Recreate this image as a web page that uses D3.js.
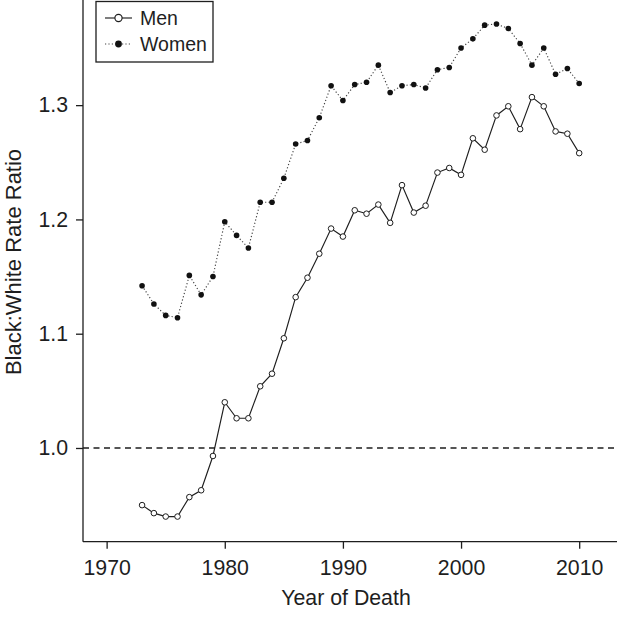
<!DOCTYPE html>
<html>
<head>
<meta charset="utf-8">
<script src="https://cdn.jsdelivr.net/npm/d3@7"></script>
<style>
  html, body { margin: 0; padding: 0; background: #fff; }
  svg { display: block; font-family: "Liberation Sans", Arial, Helvetica, sans-serif; }
</style>
</head>
<body>
<svg id="chart" width="617" height="617"></svg>
<script>
const years = d3.range(1973, 2011);
const menValues = [0.950, 0.943, 0.940, 0.940, 0.957, 0.963, 0.993, 1.040, 1.026, 1.026,
  1.054, 1.065, 1.096, 1.132, 1.149, 1.170, 1.192, 1.185, 1.208, 1.205,
  1.213, 1.197, 1.230, 1.206, 1.212, 1.241, 1.245, 1.239, 1.271, 1.261,
  1.291, 1.299, 1.279, 1.307, 1.299, 1.277, 1.275, 1.258];
const womenValues = [1.142, 1.126, 1.116, 1.114, 1.151, 1.134, 1.150, 1.198, 1.186, 1.175,
  1.215, 1.215, 1.236, 1.266, 1.269, 1.289, 1.317, 1.304, 1.318, 1.320,
  1.335, 1.311, 1.317, 1.318, 1.315, 1.331, 1.333, 1.350, 1.358, 1.370,
  1.371, 1.367, 1.354, 1.335, 1.350, 1.327, 1.332, 1.319];
const xTicks = [1970, 1980, 1990, 2000, 2010];
const yTicks = [1.0, 1.1, 1.2, 1.3];
const seriesNames = ["Men", "Women"];
const referenceValue = 1.0;

const svg = d3.select("#chart");
const ink = "#1e1e1e";
const fontSize = 21.3;
const plotLeft = 83, plotBottom = 541.7, plotRight = 617, plotTop = 0;

const x = d3.scaleLinear().domain([1968.0, 2013.2]).range([plotLeft, plotRight]);
const y = d3.scaleLinear().domain([0.918, 1.392]).range([plotBottom, plotTop]);

// reference line
svg.append("line")
  .attr("x1", plotLeft).attr("x2", plotRight)
  .attr("y1", y(referenceValue)).attr("y2", y(referenceValue))
  .attr("stroke", ink).attr("stroke-width", 1.3)
  .attr("stroke-dasharray", "6,4.5");

// axes
const xAxis = d3.axisBottom(x).tickValues(xTicks).tickFormat(d3.format("d")).tickSize(7).tickPadding(6);
const gx = svg.append("g").attr("transform", `translate(0,${plotBottom})`).call(xAxis);
gx.select(".domain").remove();
gx.append("line").attr("x1", plotLeft).attr("x2", plotRight).attr("y1", 0).attr("y2", 0)
  .attr("stroke", ink).attr("stroke-width", 1.3);
gx.selectAll(".tick line").attr("stroke", ink).attr("stroke-width", 1.3);
gx.selectAll(".tick text").attr("fill", ink).attr("font-size", fontSize)
  .attr("font-family", "Liberation Sans, Arial, sans-serif").attr("dy", "0.95em");

const yAxis = d3.axisLeft(y).tickValues(yTicks).tickFormat(d3.format(".1f")).tickSize(7).tickPadding(8);
const gy = svg.append("g").attr("transform", `translate(${plotLeft},0)`).call(yAxis);
gy.select(".domain").remove();
gy.append("line").attr("x1", 0).attr("x2", 0).attr("y1", plotTop).attr("y2", plotBottom)
  .attr("stroke", ink).attr("stroke-width", 1.3);
gy.selectAll(".tick line").attr("stroke", ink).attr("stroke-width", 1.3);
gy.selectAll(".tick text").attr("fill", ink).attr("font-size", fontSize)
  .attr("font-family", "Liberation Sans, Arial, sans-serif");

// axis titles
svg.append("text").attr("x", 346).attr("y", 605)
  .attr("text-anchor", "middle").attr("font-size", fontSize).attr("fill", ink)
  .text("Year of Death");
svg.append("text").attr("transform", "translate(21,262) rotate(-90)")
  .attr("text-anchor", "middle").attr("font-size", 22).attr("fill", ink)
  .text("Black:White Rate Ratio");

const line = d3.line().x((d, i) => x(years[i])).y(d => y(d));

// women
svg.append("path").datum(womenValues).attr("d", line)
  .attr("fill", "none").attr("stroke", "#444").attr("stroke-width", 1.15)
  .attr("stroke-dasharray", "1.2,2.2");
svg.append("g").selectAll("circle").data(womenValues).join("circle")
  .attr("cx", (d, i) => x(years[i])).attr("cy", d => y(d))
  .attr("r", 2.8).attr("fill", "#111");

// men
svg.append("path").datum(menValues).attr("d", line)
  .attr("fill", "none").attr("stroke", ink).attr("stroke-width", 1.15);
svg.append("g").selectAll("circle").data(menValues).join("circle")
  .attr("cx", (d, i) => x(years[i])).attr("cy", d => y(d))
  .attr("r", 2.8).attr("fill", "#fff").attr("stroke", ink).attr("stroke-width", 1);

// legend
const lg = svg.append("g");
lg.append("rect").attr("x", 96).attr("y", 1.5).attr("width", 117).attr("height", 60.5)
  .attr("fill", "#fff").attr("stroke", ink).attr("stroke-width", 1.3);
const rows = [18, 44];
lg.append("line").attr("x1", 105).attr("x2", 132).attr("y1", rows[0]).attr("y2", rows[0])
  .attr("stroke", ink).attr("stroke-width", 1.15);
lg.append("circle").attr("cx", 118.5).attr("cy", rows[0]).attr("r", 3.6)
  .attr("fill", "#fff").attr("stroke", ink).attr("stroke-width", 1.15);
lg.append("line").attr("x1", 105).attr("x2", 132).attr("y1", rows[1]).attr("y2", rows[1])
  .attr("stroke", "#444").attr("stroke-width", 1.15).attr("stroke-dasharray", "1.2,2.2");
lg.append("circle").attr("cx", 118.5).attr("cy", rows[1]).attr("r", 3.4).attr("fill", "#111");
lg.selectAll("text.lab").data(seriesNames).join("text").attr("class", "lab")
  .attr("x", 140).attr("y", (d, i) => rows[i]).attr("dy", "0.36em")
  .attr("font-size", 19.5).attr("fill", ink).text(d => d);
</script>
</body>
</html>
